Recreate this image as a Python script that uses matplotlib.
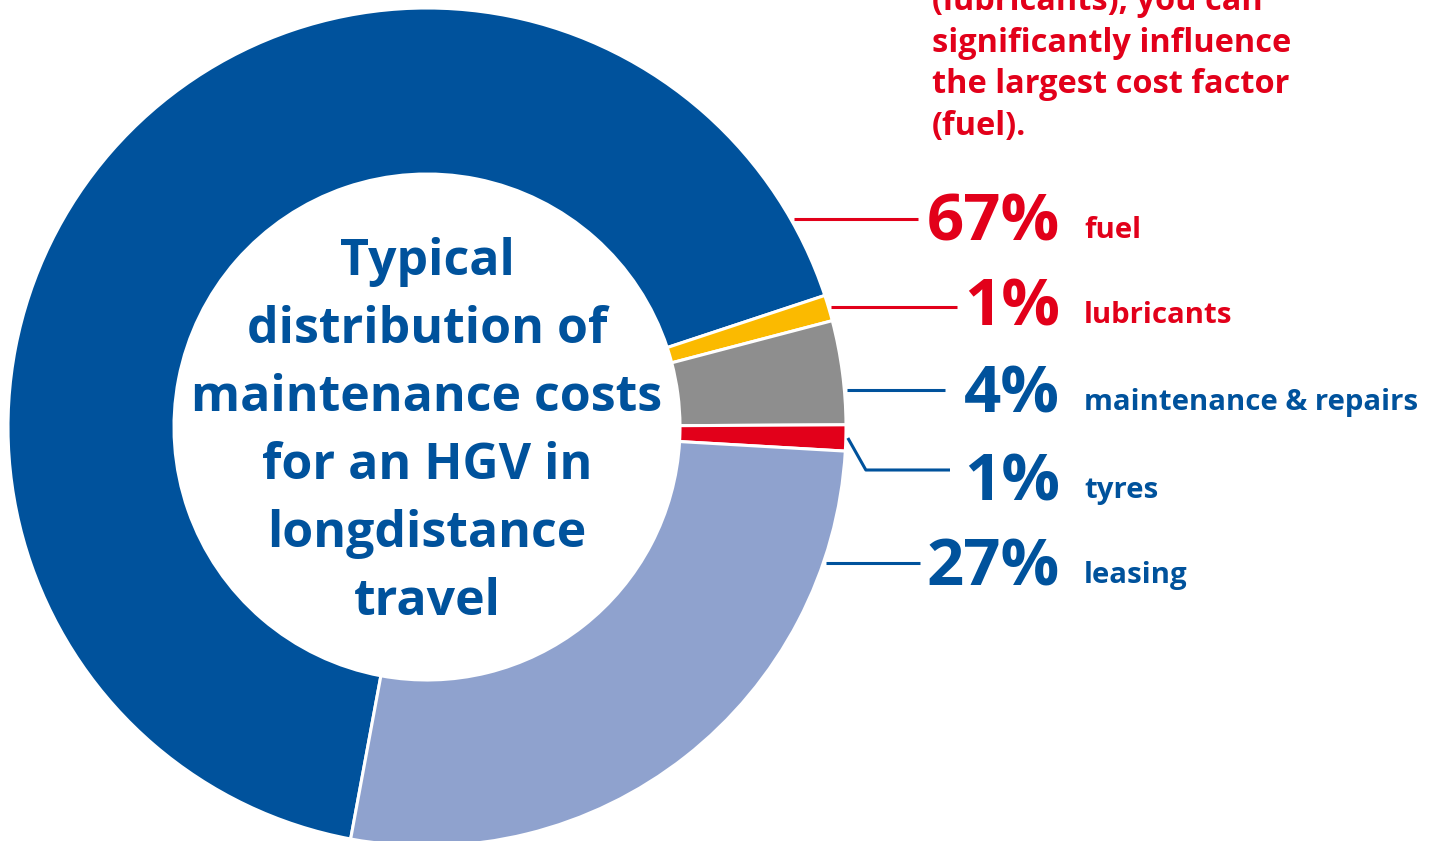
import numpy as np
import matplotlib
matplotlib.use("Agg")
from matplotlib import pyplot as plt

# data
categories = ["fuel", "lubricants", "maintenance & repairs", "tyres", "leasing"]
shares = [67, 1, 4, 1, 27]
colors = ["#00529C", "#FBBA00", "#8E8E8E", "#E2001A", "#8FA2CE"]
label_colors = ["#E2001A", "#E2001A", "#00529C", "#00529C", "#00529C"]
center_lines = ["Typical", "distribution of", "maintenance costs", "for an HGV in", "longdistance", "travel"]
note_lines = ["(lubricants), you can", "significantly influence", "the largest cost factor", "(fuel)."]

W, H = 1440, 841
BLUE = "#00529C"
RED = "#E2001A"
FONT = "Open Sans"

fig = plt.figure(figsize=(W / 100, H / 100), dpi=100)
ax = fig.add_axes([0, 0, 1, 1])

def Y(y):
    # image row -> data y
    return H - y

cx, cy, r = 427, Y(427), 419
ring = 166
wedges, _ = ax.pie(shares, colors=colors, startangle=259.5, counterclock=False,
                   radius=r, center=(cx, cy),
                   wedgeprops=dict(width=ring, edgecolor="white", linewidth=2.2))
ax.set_xlim(0, W)
ax.set_ylim(0, H)
ax.set_aspect("equal")
ax.axis("off")

# text in the hole
for i, line in enumerate(center_lines):
    ax.text(cx, Y(275 + i * 68), line, ha="center", va="baseline",
            fontsize=36, fontweight="bold", color=BLUE, family=FONT)

# note at top right (first line is cut by the top edge, as in the source)
for i, line in enumerate(note_lines):
    ax.text(932, Y(10 + i * 41.5), line, ha="left", va="baseline",
            fontsize=23.4, fontweight="bold", color=RED, family=FONT)

# labels with leader lines
label_base = [240, 325, 412, 500, 585]
line_y = [219, 307, 390, 470, 563]
line_end = [918, 957, 945, 950, 920]
for i, (cat, s) in enumerate(zip(categories, shares)):
    c = label_colors[i]
    ax.text(1060, Y(label_base[i]), f"{s}%", ha="right", va="baseline",
            fontsize=47, fontweight="bold", color=c, family=FONT)
    ax.text(1084, Y(label_base[i] - 2), cat, ha="left", va="baseline",
            fontsize=21.2, fontweight="bold", color=c, family=FONT)
    w = wedges[i]
    if cat == "tyres":
        mid = np.deg2rad((w.theta1 + w.theta2) / 2)
        x0 = cx + (r + 2) * np.cos(mid)
        y0 = cy + (r + 2) * np.sin(mid)
        xs = [x0, x0 + 18, line_end[i]]
        ys = [y0, Y(line_y[i]), Y(line_y[i])]
    else:
        dy = Y(line_y[i]) - cy
        x0 = cx + np.sqrt(r ** 2 - dy ** 2) + 3
        xs = [x0, line_end[i]]
        ys = [Y(line_y[i]), Y(line_y[i])]
    ax.plot(xs, ys, color=c, lw=2.2, solid_capstyle="butt")

fig.savefig("out.png", dpi=100)
